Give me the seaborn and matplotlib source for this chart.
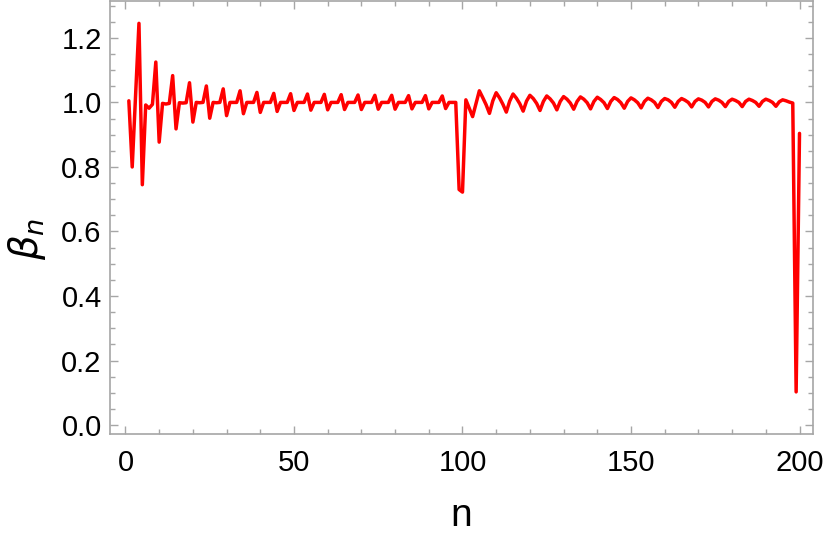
import numpy as np
import pandas as pd
import seaborn as sns
import matplotlib.pyplot as plt
from matplotlib.ticker import MultipleLocator, FormatStrFormatter


# beta_n, n = 1..200 in four blocks of 50
beta_1_50 = [1.005, 0.800, 1.020, 1.245, 0.745, 0.992, 0.982, 0.994, 1.125, 0.877,
             0.997, 0.995, 0.997, 1.083, 0.918, 0.999, 0.998, 0.999, 1.061, 0.939,
             1.000, 0.999, 1.000, 1.051, 0.951, 1.000, 0.999, 1.000, 1.042, 0.959,
             1.000, 1.000, 1.000, 1.036, 0.965, 1.000, 1.000, 1.000, 1.031, 0.969,
             1.000, 1.000, 1.000, 1.028, 0.972, 1.000, 1.000, 1.000, 1.027, 0.975]
beta_51_100 = [1.000, 1.000, 1.000, 1.026, 0.976, 1.000, 1.000, 1.000, 1.025, 0.977,
               1.000, 1.000, 1.000, 1.024, 0.978, 1.000, 1.000, 1.000, 1.023, 0.978,
               1.000, 1.000, 1.000, 1.022, 0.979, 1.000, 1.000, 1.000, 1.022, 0.979,
               1.000, 1.000, 1.000, 1.021, 0.980, 1.000, 1.000, 1.000, 1.021, 0.980,
               1.000, 1.000, 1.000, 1.020, 0.981, 1.000, 1.000, 1.000, 0.730, 0.722]
beta_101_150 = [1.008, 0.982, 0.956, 0.996, 1.036, 1.015, 0.993, 0.966, 1.005, 1.030,
                1.014, 0.994, 0.970, 1.004, 1.026, 1.013, 0.996, 0.973, 1.004, 1.022,
                1.012, 0.997, 0.975, 1.003, 1.020, 1.011, 0.998, 0.977, 1.003, 1.018,
                1.010, 0.998, 0.979, 1.003, 1.017, 1.010, 0.999, 0.980, 1.003, 1.016,
                1.009, 0.999, 0.981, 1.003, 1.015, 1.009, 0.999, 0.982, 1.003, 1.014]
beta_151_200 = [1.008, 0.999, 0.983, 1.003, 1.013, 1.008, 1.000, 0.984, 1.003, 1.012,
                1.008, 1.000, 0.985, 1.003, 1.012, 1.007, 1.000, 0.986, 1.003, 1.011,
                1.007, 1.000, 0.986, 1.003, 1.011, 1.007, 1.000, 0.987, 1.003, 1.010,
                1.006, 1.000, 0.987, 1.003, 1.010, 1.006, 1.000, 0.988, 1.003, 1.010,
                1.006, 1.000, 0.988, 1.002, 1.008, 1.005, 1.001, 0.998, 0.103, 0.904]

n_values = list(range(1, 201))


def build_frame():
    beta = beta_1_50 + beta_51_100 + beta_101_150 + beta_151_200
    return pd.DataFrame({"n": n_values, "beta": beta})


def plot_beta(df):

    sns.set_style("ticks")
    plt.rcParams["font.family"] = ["Liberation Sans", "DejaVu Sans"]
    plt.rcParams["mathtext.fontset"] = "dejavusans"

    fig = plt.figure(figsize=(8.3, 5.4), dpi=100)
    ax = fig.add_axes([0.1325, 0.196, 0.847, 0.802])

    sns.lineplot(data=df, x="n", y="beta", color="#ff0000", linewidth=2.5, ax=ax)

    ax.set_xlim(-4.6, 204)
    ax.set_ylim(-0.028, 1.314)

    # frame on all sides, gray like the reference
    frame_col = "#a6a6a6"
    for side in ["left", "right", "top", "bottom"]:
        ax.spines[side].set_visible(True)
        ax.spines[side].set_color(frame_col)
        ax.spines[side].set_linewidth(1.2)

    ax.xaxis.set_major_locator(MultipleLocator(50))
    ax.xaxis.set_minor_locator(MultipleLocator(10))
    ax.yaxis.set_major_locator(MultipleLocator(0.2))
    ax.yaxis.set_minor_locator(MultipleLocator(0.05))
    ax.yaxis.set_major_formatter(FormatStrFormatter("%.1f"))

    ax.tick_params(which="both", direction="in", top=True, right=True,
                   color=frame_col, width=1.0)
    ax.tick_params(which="major", length=6, labelsize=21, labelcolor="black")
    ax.tick_params(which="minor", length=3.5)
    ax.tick_params(axis="x", which="major", pad=11)
    ax.tick_params(axis="y", which="major", pad=6)

    ax.set_xlabel("n", fontsize=28, labelpad=15, color="black")
    ax.set_ylabel(r"$\beta_n$", fontsize=28, color="black")
    ax.yaxis.set_label_coords(-0.088, 0.45)

    return fig


df = build_frame()
fig = plot_beta(df)
fig.savefig("out.png", dpi=100)
